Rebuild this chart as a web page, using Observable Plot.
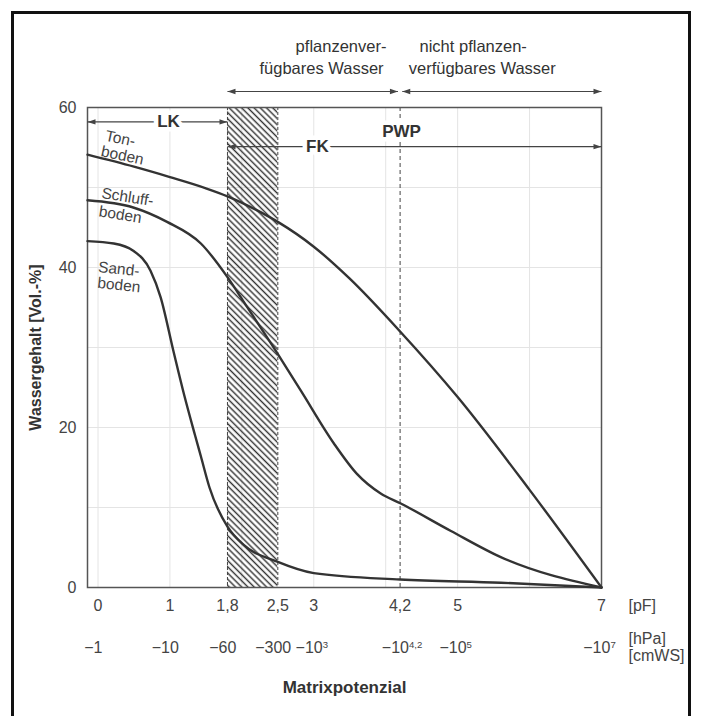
<!DOCTYPE html>
<html><head><meta charset="utf-8">
<script src="https://cdn.jsdelivr.net/npm/d3@7"></script>
<script src="https://cdn.jsdelivr.net/npm/@observablehq/plot@0.6"></script>
<style>
html,body{margin:0;padding:0;background:#fff;}
#wrap{position:relative;width:703px;height:716px;overflow:hidden;background:#fff;}
#border{position:absolute;left:11px;top:11px;width:680px;height:730px;border:3px solid #111;box-sizing:border-box;}
#chart{position:absolute;left:0;top:0;}
</style></head><body>
<div id="wrap"><div id="border"></div><div id="chart"></div></div>
<script>
// ---- data ----
const pfTicks = [0, 1, 1.8, 2.5, 3, 4.2, 5, 7];
const pfTickLabels = ["0", "1", "1,8", "2,5", "3", "4,2", "5", "7"];
const hpaLabels = ["−1", "−10", "−60", "−300", "−10^3", "−10^4,2", "−10^5", "−10^7"];
const waterTicks = [0, 20, 40, 60];
const gridPF = [0, 1, 2, 3, 4, 5, 6];
const gridWater = [10, 20, 30, 40, 50];

const tonPF    = [-0.146, 0.5, 1.0, 1.5, 1.8, 2.2, 2.5, 3.0, 3.5, 4.2, 5.0, 6.0, 7];
const tonWater = [54.1, 52.6, 51.3, 49.9, 48.9, 47.2, 45.7, 42.6, 38.6, 32.0, 23.8, 12.2, 0];

const schluffPF    = [-0.146, 0.49, 0.96, 1.43, 1.8, 2.07, 2.47, 2.82, 3.28, 3.6, 3.93, 4.21, 4.9, 5.6, 7];
const schluffWater = [48.4, 47.5, 45.7, 43.0, 38.8, 35.1, 29.6, 24.6, 18.0, 14.2, 11.75, 10.5, 7.1, 3.8, 0];

const sandPF    = [-0.146, 0.22, 0.49, 0.73, 0.87, 1.05, 1.2, 1.35, 1.43, 1.55, 1.8, 2.03, 2.5, 3.0, 4.2, 5.6, 7];
const sandWater = [43.3, 43.0, 42.1, 39.6, 36.3, 29.5, 24.0, 19.0, 16.4, 12.5, 7.6, 5.3, 3.2, 1.8, 1.0, 0.6, 0];

const soilNames = ["Tonboden", "Schluffboden", "Sandboden"];
const hatchRange = [1.8, 2.5];   // Feldkapazität-Bereich (pF)
const pwpPF = 4.2;               // permanenter Welkepunkt
const xMin = -0.146, xMax = 7;

// ---- build tables ----
const series = [[tonPF, tonWater], [schluffPF, schluffWater], [sandPF, sandWater]];
const lineData = series.flatMap(([p, w], k) => p.map((v, i) => ({soil: soilNames[k], pF: v, water: w[i]})));

const soilLabels = [
  {text: "Ton-", pF: 0.31, water: 56.1, r: 12},
  {text: "boden", pF: 0.34, water: 54.0, r: 12},
  {text: "Schluff-", pF: 0.41, water: 48.8, r: 9},
  {text: "boden", pF: 0.31, water: 46.6, r: 9},
  {text: "Sand-", pF: 0.29, water: 39.8, r: 6},
  {text: "boden", pF: 0.29, water: 37.8, r: 6}
];
const topLeftNotes = [
  {text: "pflanzenver-", pF: 4.01, water: 67.6},
  {text: "fügbares Wasser", pF: 3.97, water: 64.9}
];
const topRightNotes = [
  {text: "nicht pflanzen-", pF: 4.47, water: 67.6},
  {text: "verfügbares Wasser", pF: 4.32, water: 64.9}
];
const arrows = [
  {x1: hatchRange[0], x2: 4.17, y: 62.0},
  {x1: 4.23, x2: xMax, y: 62.0},
  {x1: xMin, x2: hatchRange[0], y: 58.2},
  {x1: hatchRange[0], x2: xMax, y: 55.1}
];
const boldNotes = [
  {text: "LK", pF: 0.98, water: 58.2},
  {text: "FK", pF: 3.05, water: 55.1},
  {text: "PWP", pF: 4.22, water: 57.0}
];
const units = [
  {text: "[pF]", water: -2.3},
  {text: "[hPa]", water: -6.4},
  {text: "[cmWS]", water: -8.6}
];

const ink = "#333";
const FONT = "'Liberation Sans', Arial, Helvetica, sans-serif";

const svg = Plot.plot({
  width: 703, height: 716,
  marginLeft: 87, marginRight: 102, marginTop: 107, marginBottom: 129,
  x: {domain: [xMin, xMax]},
  y: {domain: [0, 60]},
  style: {fontFamily: FONT, fontSize: "16px", color: ink, background: "transparent", overflow: "visible"},
  marks: [
    Plot.ruleX(gridPF, {stroke: "#e4e4e4", strokeWidth: 1}),
    Plot.ruleY(gridWater, {stroke: "#e4e4e4", strokeWidth: 1}),
    Plot.rect([hatchRange], {x1: d => d[0], x2: d => d[1], y1: 0, y2: 60, fill: "url(#hatch)"}),
    Plot.ruleX(hatchRange, {stroke: "#444", strokeWidth: 1, strokeDasharray: "3,2"}),
    Plot.ruleX([pwpPF], {stroke: "#444", strokeWidth: 1, strokeDasharray: "4,3"}),
    Plot.frame({stroke: "#555", strokeWidth: 1.5}),
    Plot.line(lineData, {x: "pF", y: "water", z: "soil", stroke: "#333", strokeWidth: 2.4, curve: "monotone-x"}),
    Plot.link(arrows, {x1: "x1", x2: "x2", y1: "y", y2: "y", stroke: "#444", strokeWidth: 1.2, markerStart: "arrow", markerEnd: "arrow"}),
    Plot.text(boldNotes, {x: "pF", y: "water", text: "text", fontWeight: "bold", fontSize: 17, fill: ink, stroke: "white", strokeWidth: 9, paintOrder: "stroke"}),
    Plot.text(soilLabels, {x: "pF", y: "water", text: "text", rotate: "r", fontSize: 15.5, fill: "#444"}),
    Plot.text(topLeftNotes, {x: "pF", y: "water", text: "text", textAnchor: "end", fontSize: 16.5, fill: ink}),
    Plot.text(topRightNotes, {x: "pF", y: "water", text: "text", textAnchor: "start", fontSize: 16.5, fill: ink}),
    Plot.axisY({ticks: waterTicks, tickSize: 0, tickPadding: 11, label: null, fontSize: 16, fill: "#444"}),
    Plot.axisX({ticks: pfTicks, tickFormat: d => pfTickLabels[pfTicks.indexOf(d)], tickSize: 0, tickPadding: 12, label: null, fontSize: 16, fill: "#444"}),
    Plot.axisX({ticks: pfTicks, tickFormat: d => hpaLabels[pfTicks.indexOf(d)], tickSize: 0, tickPadding: 54, label: null, fontSize: 16, fill: "#444"}),
    Plot.text(units, {x: xMax, y: "water", text: "text", textAnchor: "start", dx: 27, fontSize: 16, fill: "#444"}),
    Plot.text(["Wassergehalt [Vol.-%]"], {frameAnchor: "left", textAnchor: "middle", rotate: -90, dx: -52, fontWeight: "bold", fontSize: 16, fill: ink}),
    Plot.text(["Matrixpotenzial"], {frameAnchor: "bottom", dy: 105, fontWeight: "bold", fontSize: 17, fill: ink})
  ]
});

document.getElementById("chart").appendChild(svg);

// hatch pattern
d3.select(svg).insert("defs", ":first-child").html(
  '<pattern id="hatch" patternUnits="userSpaceOnUse" width="4.4" height="10" patternTransform="rotate(-45)">' +
  '<line x1="2.2" y1="-2" x2="2.2" y2="12" stroke="#333" stroke-width="1.45"/></pattern>');

// filled arrowheads
d3.select(svg).selectAll("marker").each(function() {
  const m = d3.select(this);
  const c = m.attr("stroke") || "#444";
  m.attr("viewBox", "-10 -5 10 10").attr("orient", "auto-start-reverse")
   .attr("fill", c).attr("stroke", "none").attr("overflow", "visible");
  m.selectAll("path").attr("d", "M-10,-3.3L0,0L-10,3.3Z");
});

// hPa labels: minus sign and superscript hang outside, numerals centred on the tick
d3.select(svg).selectAll("text").each(function() {
  const t = this.textContent;
  if (this.childElementCount !== 0 || !hpaLabels.includes(t)) return;
  const [base, sup] = t.split("^");
  const s = d3.select(this);
  s.text(null);
  const minus = s.append("tspan").text(base.slice(0, 1));
  s.append("tspan").text(base.slice(1));
  let supW = 0;
  if (sup) {
    const st = s.append("tspan").attr("dy", "-0.55em").attr("font-size", "0.6em").text(sup);
    supW = st.node().getComputedTextLength();
  }
  const mW = minus.node().getComputedTextLength();
  const shift = (supW - mW) / 2;
  const x0 = +s.attr("x") || 0;
  s.attr("x", x0 + shift);
});
</script></body></html>
